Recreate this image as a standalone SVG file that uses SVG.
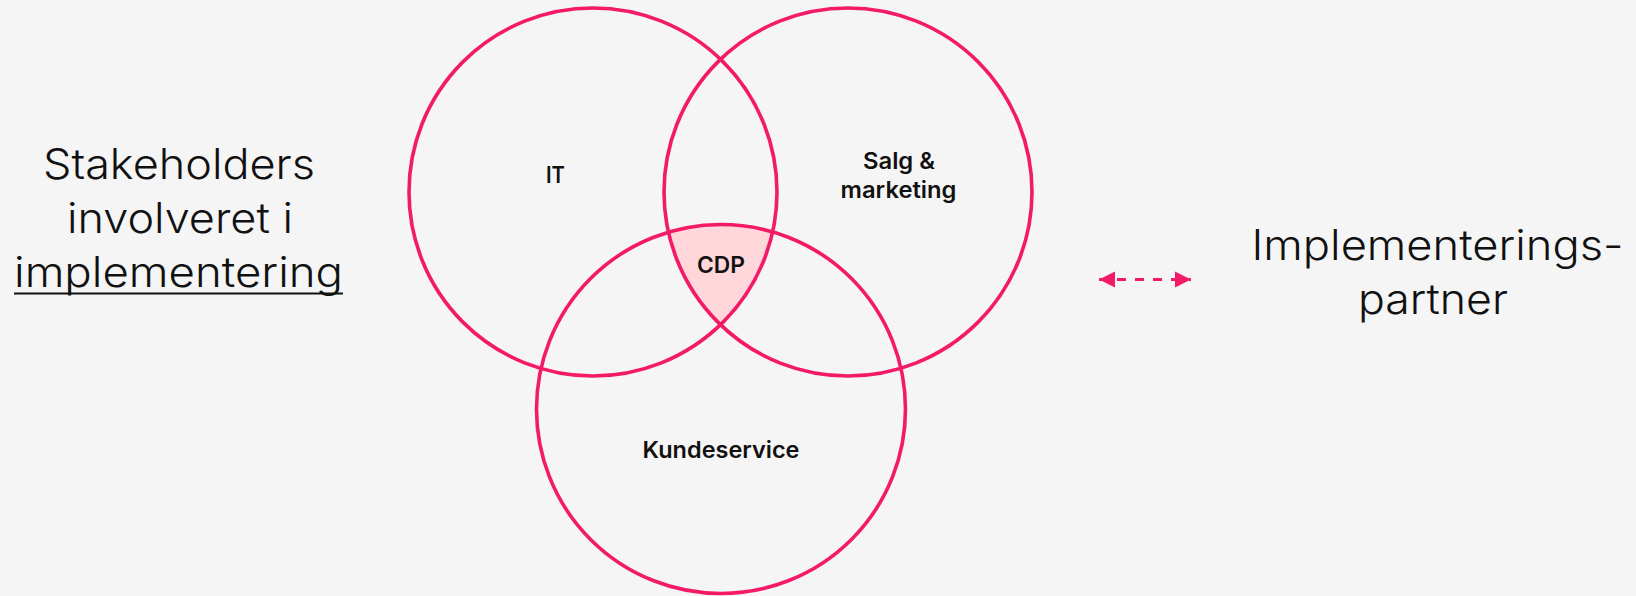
<svg xmlns="http://www.w3.org/2000/svg" width="1636" height="596" viewBox="0 0 1636 596">
  <style>
    .ring { fill: none; stroke: #F31A68; stroke-width: 3.6; }
    .big { font-family: Inter, "Noto Sans", "Liberation Sans", sans-serif; font-weight: 300; font-size: 42px; fill: #111111; text-anchor: middle; }
    .lbl { font-family: Inter, "Noto Sans", "Liberation Sans", sans-serif; font-weight: 600; font-size: 22.5px; fill: #111111; text-anchor: middle; }
    .conn { stroke: #F31A68; stroke-width: 3; fill: none; stroke-dasharray: 9 9; }
  </style>
  <defs>
    <clipPath id="clipSalg"><circle cx="848" cy="192" r="184"/></clipPath>
    <clipPath id="clipKunde"><circle cx="721" cy="409" r="184.5"/></clipPath>
    <marker id="arrowHead" viewBox="0 0 10 10" refX="10" refY="5" markerWidth="5.4" markerHeight="5.4" orient="auto-start-reverse" markerUnits="strokeWidth">
      <path d="M0,0 L10,5 L0,10 z" fill="#F31A68"/>
    </marker>
  </defs>
  <rect width="1636" height="596" fill="#F5F5F5"/>

  <g id="cdp-fill" clip-path="url(#clipKunde)">
    <circle cx="593" cy="192" r="184" fill="#FFD6D9" clip-path="url(#clipSalg)"/>
  </g>

  <g id="node-it">
    <circle class="ring" cx="593" cy="192" r="184"/>
    <text class="lbl" x="555.5" y="183" textLength="19" lengthAdjust="spacingAndGlyphs">IT</text>
  </g>
  <g id="node-salg">
    <circle class="ring" cx="848" cy="192" r="184"/>
    <text class="lbl" x="899" y="169" textLength="72" lengthAdjust="spacingAndGlyphs">Salg &amp;</text>
    <text class="lbl" x="898.5" y="198" textLength="116" lengthAdjust="spacingAndGlyphs">marketing</text>
  </g>
  <g id="node-kunde">
    <circle class="ring" cx="721" cy="409" r="184.5"/>
    <text class="lbl" x="721" y="458" textLength="157" lengthAdjust="spacingAndGlyphs">Kundeservice</text>
  </g>
  <g id="node-cdp">
    <text class="lbl" x="721" y="272.5" textLength="48" lengthAdjust="spacingAndGlyphs">CDP</text>
  </g>

  <g id="node-stakeholders">
    <text class="big" x="179" y="179" textLength="272" lengthAdjust="spacingAndGlyphs">Stakeholders</text>
    <text class="big" x="180" y="233" textLength="226" lengthAdjust="spacingAndGlyphs">involveret i</text>
    <text class="big" x="178.5" y="287" textLength="329" lengthAdjust="spacingAndGlyphs">implementering</text>
    <line x1="14" y1="293.5" x2="343" y2="293.5" stroke="#111111" stroke-width="2"/>
  </g>

  <g id="node-partner">
    <text class="big" x="1437.5" y="260" textLength="372" lengthAdjust="spacingAndGlyphs">Implementerings-</text>
    <text class="big" x="1433" y="314" textLength="150" lengthAdjust="spacingAndGlyphs">partner</text>
  </g>

  <g id="connectors">
    <line class="conn" x1="1099" y1="279.5" x2="1191" y2="279.5" marker-start="url(#arrowHead)" marker-end="url(#arrowHead)"/>
  </g>
</svg>
